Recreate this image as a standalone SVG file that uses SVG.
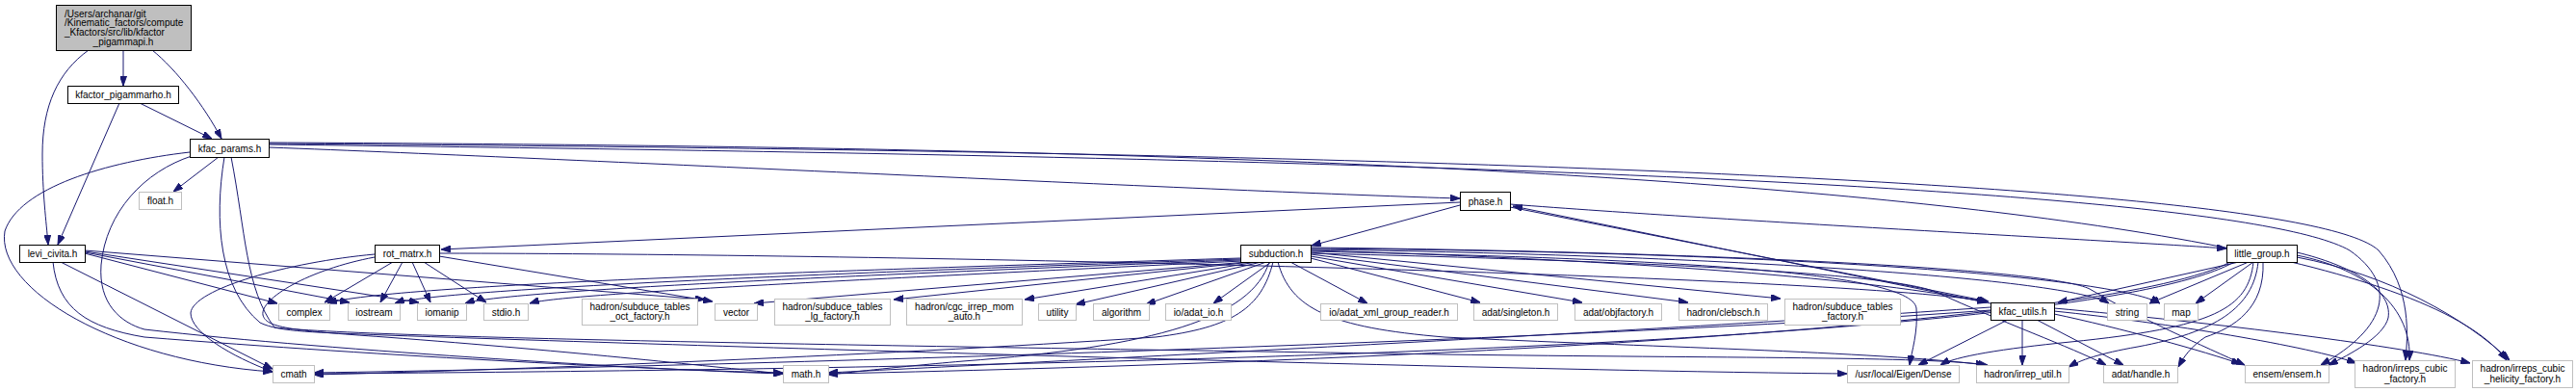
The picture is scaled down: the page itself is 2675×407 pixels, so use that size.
<svg xmlns="http://www.w3.org/2000/svg" width="2675" height="407" viewBox="0 0 2675 407">
<style>
.n{fill:#fff;stroke:#000;stroke-width:1}
.x{fill:#fff;stroke:#bfbfbf;stroke-width:1}
.r{fill:#bfbfbf;stroke:#000;stroke-width:1}
text{font-family:"Liberation Sans",Arial,sans-serif;font-size:10px;fill:#000;text-anchor:middle}
.l{text-anchor:start}
#edges path{fill:none;stroke:#191970;stroke-width:1;marker-end:url(#a)}
</style>
<defs>
<marker id="a" viewBox="0 0 10 7" refX="10" refY="3.5" markerWidth="10" markerHeight="7" orient="auto" markerUnits="userSpaceOnUse">
<path d="M0,0 L10,3.5 L0,7 z" fill="#191970" stroke="#191970"/>
</marker>
</defs>
<rect width="2675" height="407" fill="#fff"/>
<g id="edges">
<path d="M128,52 L128,89"/>
<path d="M158,52 C183,72 212,110 230,144"/>
<path d="M92,52 C60,75 44,110 44,160 C44,200 48,230 50,254"/>
<path d="M145,107 L220,144"/>
<path d="M124,107 L60,254"/>
<path d="M227,163 L180,199"/>
<path d="M197,158 C110,168 20,195 5,240 C-5,300 120,375 283,386"/>
<path d="M199,162 C150,178 110,220 105,275 C102,315 125,335 150,342 C350,365 700,385 813,388"/>
<path d="M233,163 C222,230 228,300 270,335 C290,345 330,345 400,348 C900,365 1600,385 1918,388"/>
<path d="M240,163 C255,240 255,300 285,340 C400,352 1000,360 1500,368 C1800,372 2000,370 2064,379"/>
<path d="M279,153 C600,165 1300,200 1516,206"/>
<path d="M279,150 C1100,160 2300,180 2440,260 C2490,295 2480,340 2410,379"/>
<path d="M279,149 C1100,155 2380,175 2470,260 C2505,300 2500,350 2498,374"/>
<path d="M279,148 C1100,152 2450,170 2603,374"/>
<path d="M2325,272 L2137,314"/>
<path d="M2335,272 L2232,315"/>
<path d="M2340,272 L2280,315"/>
<path d="M2385,262 C2440,275 2485,300 2480,330 C2475,350 2440,368 2418,379"/>
<path d="M2385,265 C2460,280 2505,320 2502,374"/>
<path d="M2385,267 C2480,285 2560,330 2606,374"/>
<path d="M2350,272 C2352,320 2320,340 2290,350 C2275,360 2268,370 2262,381"/>
<path d="M2345,272 C2340,320 2300,345 2220,360 C2180,367 2160,374 2148,381"/>
<path d="M2340,272 C2335,320 2300,340 2150,355 C2080,362 2030,370 2015,379"/>
<path d="M2320,272 C2200,340 1500,380 326,388"/>
<path d="M2316,272 C2200,335 1500,375 860,388"/>
<path d="M2067,315 L1571,214"/>
<path d="M2085,332 L1992,379"/>
<path d="M2100,332 L2100,379"/>
<path d="M2115,332 L2205,379"/>
<path d="M2133,326 C2200,340 2290,365 2327,378"/>
<path d="M2133,323 C2250,335 2400,360 2447,377"/>
<path d="M2133,320 C2300,335 2500,360 2565,377"/>
<path d="M2067,322 C1700,350 800,380 326,387"/>
<path d="M2067,319 C1700,345 1000,380 860,387"/>
<path d="M1288,268 C900,280 400,295 340,315"/>
<path d="M1288,269 C900,282 450,300 410,315"/>
<path d="M1288,270 C900,285 520,302 483,315"/>
<path d="M1290,271 C900,290 580,305 550,315"/>
<path d="M1295,272 L783,315"/>
<path d="M1300,272 L928,311"/>
<path d="M1305,272 L1064,311"/>
<path d="M1310,272 L1117,316"/>
<path d="M1315,272 L1190,316"/>
<path d="M1320,272 L1260,315"/>
<path d="M1340,272 L1420,315"/>
<path d="M1361,268 L1537,314"/>
<path d="M1361,266 L1643,314"/>
<path d="M1361,264 L1753,314"/>
<path d="M1361,262 L1849,310"/>
<path d="M1361,260 C1700,270 1950,290 2063,314"/>
<path d="M1361,259 C1800,265 2150,290 2190,315"/>
<path d="M1361,258 C1900,262 2200,290 2243,315"/>
<path d="M1361,261 C1700,268 1985,280 1990,320 C1992,345 1985,365 1983,379"/>
<path d="M1361,263 C1700,271 1960,283 2010,303 C2080,335 2150,360 2187,379"/>
<path d="M1361,257 C1800,262 2130,280 2170,300 C2220,330 2290,360 2331,379"/>
<path d="M1327,272 C1340,320 1380,340 1500,350 C1700,360 1950,365 2062,379"/>
<path d="M1322,272 C1310,320 1280,340 1200,350 C900,370 500,385 326,389"/>
<path d="M1318,272 C1300,330 1200,360 1000,375 C920,382 880,387 860,389"/>
<path d="M408,272 L337,314"/>
<path d="M418,272 L395,314"/>
<path d="M428,272 L447,314"/>
<path d="M440,272 L505,314"/>
<path d="M456,266 L740,313"/>
<path d="M389,264 C300,272 200,300 198,325 C198,345 240,370 283,386"/>
<path d="M389,267 C320,280 270,310 273,327 C276,340 300,343 400,350 C600,365 750,382 813,388"/>
<path d="M456,263 C900,263 1900,285 2063,313"/>
<path d="M1516,213 L1362,255"/>
<path d="M1516,210 L458,259"/>
<path d="M1568,212 C1800,230 2200,250 2312,258"/>
<path d="M1568,215 L2065,313"/>
<path d="M88,263 L288,315"/>
<path d="M88,262 L363,314"/>
<path d="M88,261 L435,314"/>
<path d="M88,260 L732,311"/>
<path d="M63,272 L283,383"/>
<path d="M55,272 C60,320 90,340 150,350 C400,370 700,385 813,387"/>
</g>
<g id="n_top"><rect class="r" x="58.5" y="5.5" width="140" height="47"/><text class="l" x="67" y="17.5">/Users/archanar/git</text><text class="l" x="67" y="27.3">/Kinematic_factors/compute</text><text class="l" x="67" y="37">_Kfactors/src/lib/kfactor</text><text x="128" y="46.8">_pigammapi.h</text></g>
<g id="n_rho"><rect class="n" x="70.5" y="89.5" width="115" height="18"/><text x="128" y="102">kfactor_pigammarho.h</text></g>
<g id="n_params"><rect class="n" x="197.5" y="144.5" width="82" height="19"/><text x="238.5" y="157.5">kfac_params.h</text></g>
<g id="n_float"><rect class="x" x="144.5" y="199.5" width="44" height="18"/><text x="166.5" y="212">float.h</text></g>
<g id="n_levi"><rect class="n" x="20.5" y="254.5" width="68" height="18"/><text x="54.5" y="267">levi_civita.h</text></g>
<g id="n_rot"><rect class="n" x="389.5" y="254.5" width="67" height="18"/><text x="423" y="267">rot_matrx.h</text></g>
<g id="n_complex"><rect class="x" x="289.5" y="315.5" width="53" height="17"/><text x="316" y="327.5">complex</text></g>
<g id="n_iostream"><rect class="x" x="361.5" y="315.5" width="54" height="17"/><text x="388.5" y="327.5">iostream</text></g>
<g id="n_iomanip"><rect class="x" x="433.5" y="315.5" width="51" height="17"/><text x="459" y="327.5">iomanip</text></g>
<g id="n_stdio"><rect class="x" x="502.5" y="315.5" width="46" height="17"/><text x="525.5" y="327.5">stdio.h</text></g>
<g id="n_oct"><rect class="x" x="604.5" y="310.5" width="120" height="27"/><text x="664.5" y="321.5">hadron/subduce_tables</text><text x="664.5" y="332">_oct_factory.h</text></g>
<g id="n_vector"><rect class="x" x="742.5" y="315.5" width="44" height="17"/><text x="764.5" y="327.5">vector</text></g>
<g id="n_lg"><rect class="x" x="804.5" y="310.5" width="120" height="27"/><text x="864.5" y="321.5">hadron/subduce_tables</text><text x="864.5" y="332">_lg_factory.h</text></g>
<g id="n_cgc"><rect class="x" x="941.5" y="310.5" width="120" height="27"/><text x="1001.5" y="321.5">hadron/cgc_irrep_mom</text><text x="1001.5" y="332">_auto.h</text></g>
<g id="n_utility"><rect class="x" x="1078.5" y="315.5" width="39" height="17"/><text x="1098" y="327.5">utility</text></g>
<g id="n_algorithm"><rect class="x" x="1135.5" y="315.5" width="58" height="17"/><text x="1164.5" y="327.5">algorithm</text></g>
<g id="n_adatio"><rect class="x" x="1210.5" y="315.5" width="68" height="17"/><text x="1244.5" y="327.5">io/adat_io.h</text></g>
<g id="n_sub"><rect class="n" x="1288.5" y="254.5" width="73" height="18"/><text x="1325" y="267">subduction.h</text></g>
<g id="n_phase"><rect class="n" x="1516.5" y="199.5" width="52" height="19"/><text x="1542.5" y="212.5">phase.h</text></g>
<g id="n_xml"><rect class="x" x="1371.5" y="315.5" width="142" height="17"/><text x="1442.5" y="327.5">io/adat_xml_group_reader.h</text></g>
<g id="n_singleton"><rect class="x" x="1530.5" y="315.5" width="87" height="17"/><text x="1574" y="327.5">adat/singleton.h</text></g>
<g id="n_objfactory"><rect class="x" x="1635.5" y="315.5" width="90" height="17"/><text x="1680.5" y="327.5">adat/objfactory.h</text></g>
<g id="n_clebsch"><rect class="x" x="1743.5" y="315.5" width="92" height="17"/><text x="1789.5" y="327.5">hadron/clebsch.h</text></g>
<g id="n_stfactory"><rect class="x" x="1853.5" y="310.5" width="120" height="27"/><text x="1913.5" y="321.5">hadron/subduce_tables</text><text x="1913.5" y="332">_factory.h</text></g>
<g id="n_kfac"><rect class="n" x="2067.5" y="314.5" width="66" height="18"/><text x="2100.5" y="327">kfac_utils.h</text></g>
<g id="n_string"><rect class="x" x="2188.5" y="315.5" width="41" height="17"/><text x="2209" y="327.5">string</text></g>
<g id="n_map"><rect class="x" x="2247.5" y="315.5" width="35" height="17"/><text x="2265" y="327.5">map</text></g>
<g id="n_little"><rect class="n" x="2312.5" y="254.5" width="73" height="18"/><text x="2349" y="267">little_group.h</text></g>
<g id="n_eigen"><rect class="x" x="1918.5" y="379.5" width="116" height="18"/><text x="1976.5" y="392">/usr/local/Eigen/Dense</text></g>
<g id="n_irreputil"><rect class="x" x="2052.5" y="379.5" width="96" height="18"/><text x="2100.5" y="392">hadron/irrep_util.h</text></g>
<g id="n_handle"><rect class="x" x="2184.5" y="379.5" width="77" height="18"/><text x="2223" y="392">adat/handle.h</text></g>
<g id="n_ensem"><rect class="x" x="2331.5" y="379.5" width="87" height="18"/><text x="2375" y="392">ensem/ensem.h</text></g>
<g id="n_cubic"><rect class="x" x="2445.5" y="374.5" width="104" height="28"/><text x="2497.5" y="386">hadron/irreps_cubic</text><text x="2497.5" y="396.5">_factory.h</text></g>
<g id="n_helicity"><rect class="x" x="2567.5" y="374.5" width="104" height="28"/><text x="2619.5" y="386">hadron/irreps_cubic</text><text x="2619.5" y="396.5">_helicity_factory.h</text></g>
<g id="n_math"><rect class="x" x="813.5" y="379.5" width="47" height="18"/><text x="837" y="392">math.h</text></g>
<g id="n_cmath"><rect class="x" x="283.5" y="379.5" width="43" height="18"/><text x="305" y="392">cmath</text></g>
</svg>
